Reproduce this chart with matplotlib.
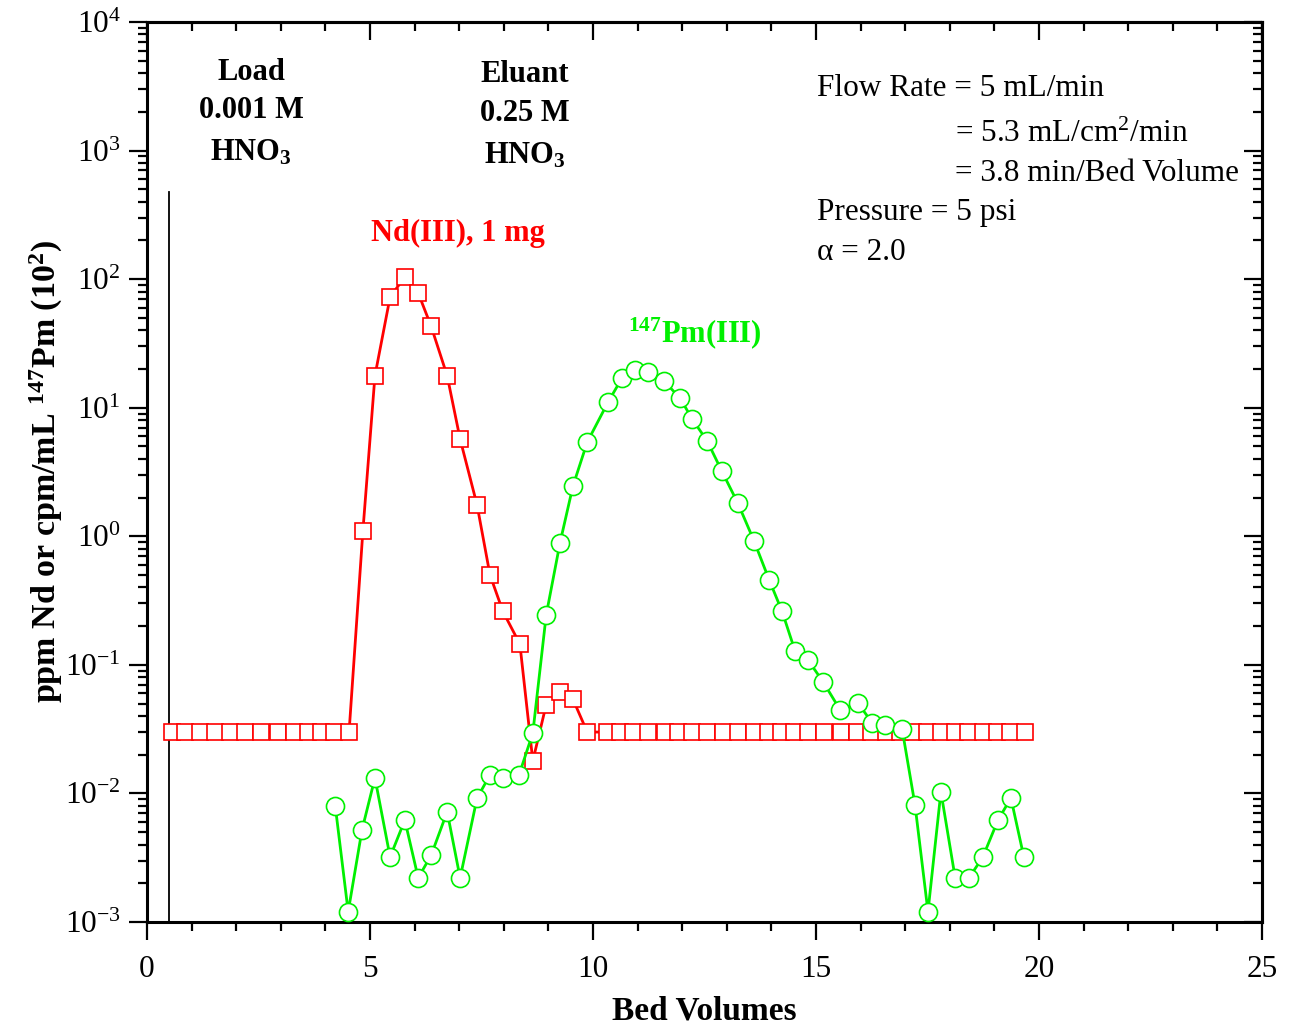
import matplotlib
matplotlib.use("Agg")
import matplotlib.pyplot as plt
from matplotlib.ticker import MultipleLocator, LogLocator

plt.rcParams['font.family'] = ['Liberation Serif', 'DejaVu Serif']
plt.rcParams['mathtext.fontset'] = 'custom'
plt.rcParams['mathtext.rm'] = 'Liberation Serif'
plt.rcParams['mathtext.it'] = 'Liberation Serif:italic'
plt.rcParams['mathtext.bf'] = 'Liberation Serif:bold'

# Nd(III) elution (ppm)
nd_bv = [0.56, 0.85, 1.18, 1.52, 1.86, 2.20, 2.56, 2.94, 3.30, 3.60, 3.90, 4.20, 4.53,
         4.84, 5.11, 5.45, 5.78, 6.08, 6.37, 6.73, 7.02, 7.40, 7.69, 7.98, 8.36, 8.65,
         8.95, 9.26, 9.55, 9.87,
         10.31, 10.61, 10.90, 11.23, 11.61, 11.91, 12.22, 12.56, 12.91, 13.25, 13.61,
         13.92, 14.22, 14.51, 14.82, 15.18, 15.56, 15.92, 16.23, 16.57, 16.88, 17.17,
         17.49, 17.80, 18.12, 18.41, 18.74, 19.06, 19.35, 19.69]
nd_ppm = [0.03] * 13 + [1.1, 17.7, 72.6, 104, 78, 43, 17.7, 5.7, 1.75, 0.5, 0.26, 0.145,
                        0.0179, 0.049, 0.0615, 0.054, 0.03] + [0.03] * 30

# 147Pm(III) elution (cpm/mL, x10^2)
pm_bv = [4.22, 4.51, 4.82, 5.11, 5.45, 5.78, 6.08, 6.37, 6.73, 7.02, 7.40, 7.69, 7.98,
         8.34, 8.65, 8.95, 9.26, 9.55, 9.87, 10.34, 10.65, 10.94, 11.23, 11.59, 11.95,
         12.22, 12.56, 12.89, 13.25, 13.61, 13.95, 14.24, 14.53, 14.82, 15.16, 15.54,
         15.94, 16.26, 16.55, 16.93, 17.22, 17.51, 17.80, 18.12, 18.43, 18.74, 19.08,
         19.37, 19.66]
pm_cpm = [0.0080, 0.0012, 0.0052, 0.0132, 0.0032, 0.0062, 0.0022, 0.0033, 0.0072, 0.0022,
          0.0092, 0.0139, 0.0132, 0.0139, 0.0295, 0.244, 0.89, 2.46, 5.4, 11.1, 17.0,
          19.6, 18.8, 16.1, 11.9, 8.2, 5.5, 3.2, 1.8, 0.92, 0.457, 0.26, 0.128, 0.109,
          0.0736, 0.0446, 0.0505, 0.0353, 0.034, 0.0317, 0.0081, 0.0012, 0.0103, 0.0022,
          0.0022, 0.0032, 0.0062, 0.0092, 0.0032]

load_line_x = 0.49
load_line_top = 476

red = '#ff0000'
green = '#00f000'

fig = plt.figure(figsize=(12.92, 10.33), dpi=100)
ax = fig.add_axes([0.1138, 0.1075, 0.8630, 0.8712])

ax.plot(nd_bv, nd_ppm, color=red, lw=2.0, marker='s', ms=11.5,
        mfc='white', mec=red, mew=1.2, zorder=3)
ax.plot(pm_bv, pm_cpm, color=green, lw=2.0, marker='o', ms=13,
        mfc='white', mec=green, mew=1.2, zorder=4)
ax.plot([load_line_x, load_line_x], [1e-3, load_line_top], color='black', lw=1.3, zorder=2)

ax.set_yscale('log')
ax.set_xlim(0, 25)
ax.set_ylim(1e-3, 1e4)
ax.xaxis.set_major_locator(MultipleLocator(5))
ax.xaxis.set_minor_locator(MultipleLocator(1))
ax.yaxis.set_major_locator(LogLocator(base=10, numticks=20))
ax.yaxis.set_minor_locator(LogLocator(base=10, subs=range(2, 10), numticks=20))

for s in ax.spines.values():
    s.set_linewidth(2.2)
ax.tick_params(which='major', direction='out', length=13, width=1.6, labelsize=22.5)
ax.tick_params(which='minor', direction='out', length=6.5, width=1.6)
ax.tick_params(axis='x', which='major', pad=11)
ax.tick_params(axis='y', which='major', pad=6)

# inward ticks on top and right
top = ax.secondary_xaxis('top')
top.xaxis.set_major_locator(MultipleLocator(5))
top.xaxis.set_minor_locator(MultipleLocator(1))
top.tick_params(which='major', direction='in', length=13, width=1.6, labeltop=False)
top.tick_params(which='minor', direction='in', length=6.5, width=1.6)
right = ax.secondary_yaxis('right')
right.set_yscale('log')
right.yaxis.set_major_locator(LogLocator(base=10, numticks=20))
right.yaxis.set_minor_locator(LogLocator(base=10, subs=range(2, 10), numticks=20))
right.tick_params(which='major', direction='in', length=13, width=1.6, labelright=False)
right.tick_params(which='minor', direction='in', length=6.5, width=1.6)
for sec in (top, right):
    for s in sec.spines.values():
        s.set_linewidth(2.2)

ax.set_xlabel('Bed Volumes', fontsize=24, fontweight='bold', labelpad=8)
ax.set_ylabel(r'ppm Nd or cpm/mL $^\mathbf{147}$Pm (10$^\mathbf{2}$)',
              fontsize=24.5, fontweight='bold', labelpad=0)

bold = dict(fontsize=22, fontweight='bold', ha='center', va='center')
ax.text(2.33, 10**3.611, 'Load', **bold)
ax.text(2.33, 10**3.308, '0.001 M', **bold)
ax.text(2.33, 10**2.98, r'HNO$_\mathbf{3}$', **bold)
ax.text(8.48, 10**3.588, 'Eluant', **bold)
ax.text(8.48, 10**3.285, '0.25 M', **bold)
ax.text(8.48, 10**2.96, r'HNO$_\mathbf{3}$', **bold)
ax.text(6.97, 10**2.359, 'Nd(III), 1 mg', color=red, **bold)
ax.text(12.29, 10**1.581, r'$^\mathbf{147}$Pm(III)', color=green, **bold)

norm = dict(fontsize=22.5, ha='left', va='center')
ax.text(15.02, 10**(4 - 67 / 128.57), 'Flow Rate = 5 mL/min', **norm)
ax.text(18.12, 10**(4 - 112 / 128.57), r'= 5.3 mL/cm$^2$/min', **norm)
ax.text(18.12, 10**(4 - 152 / 128.57), '= 3.8 min/Bed Volume', **norm)
ax.text(15.02, 10**(4 - 191 / 128.57), 'Pressure = 5 psi', **norm)
ax.text(15.02, 10**(4 - 231 / 128.57), 'α = 2.0', **norm)

fig.savefig('out.png', dpi=100)
